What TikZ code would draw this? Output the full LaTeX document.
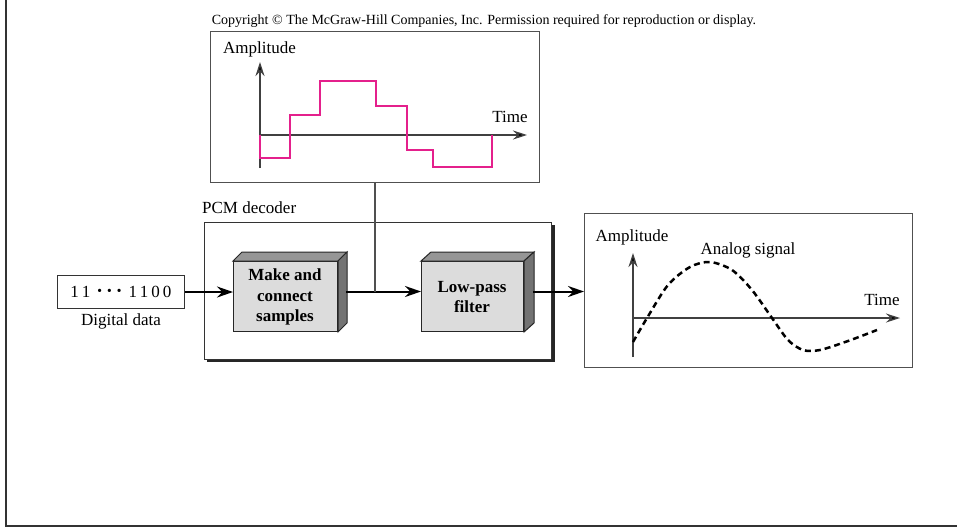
\documentclass[tikz,border=0pt]{standalone}
\usepackage{fontspec}
\setmainfont{Liberation Serif}
\usetikzlibrary{arrows.meta}
\definecolor{pinkline}{RGB}{228,32,140}
\definecolor{framegray}{RGB}{80,80,80}
\definecolor{frontgray}{RGB}{220,220,220}
\definecolor{topgray}{RGB}{150,150,150}
\definecolor{sidegray}{RGB}{115,115,115}
\tikzset{
  lbl/.style={inner sep=0pt, font=\fontsize{17}{20}\selectfont},
  panel/.style={draw=framegray, line width=1.3pt, fill=white, inner sep=0pt, anchor=north west},
  front/.style={draw=black!85, line width=1pt, fill=frontgray, inner sep=0pt, anchor=north west},
  axis/.style={draw=black!75, line width=1.3pt, -{Stealth[length=14pt,width=9pt,fill=black]}},
  flow/.style={draw=black, line width=2pt, -{Stealth[length=16pt,width=11pt]}},
  btxt/.style={align=center, inner sep=0pt, font=\bfseries\fontsize{17}{20.5}\selectfont}
}
\newcommand{\dotsep}{{\bfseries\fontsize{20}{20}\selectfont ·}}
\begin{document}
\begin{tikzpicture}[x=1pt,y=-1pt]
\useasboundingbox (0,0) rectangle (957,528);
% outer frame
\draw[line width=2pt, black!80] (6,0) -- (6,526) -- (957,526);
% copyright
\node[inner sep=0pt, font=\fontsize{14}{16}\selectfont] (copy) at (484,21) {Copyright \textcopyright{} The McGraw-Hill Companies, Inc. Permission required for reproduction or display.};
% top panel
\node[panel, minimum width=329pt, minimum height=151pt] (top) at (210,31) {};
\node[lbl] (amp1) at (259.5,49) {Amplitude};
\node[lbl] (time1) at (510,117) {Time};
\coordinate (o1) at (260,135);
\coordinate (o1b) at (260,168);
\coordinate (o1t) at (260,62);
\coordinate (o1r) at (527,135);
\draw[axis] (o1b) -- (o1t);
\draw[axis] (o1) -- (o1r);
\draw[pinkline, line width=2.5pt, line join=miter] (260,135) -- (260,158) -- (290,158) -- (290,115) -- (320,115) -- (320,81) -- (376,81) -- (376,106) -- (407,106) -- (407,150) -- (433,150) -- (433,167) -- (492,167) -- (492,135);
% PCM decoder
\node[lbl, anchor=west] (pcm) at (202,208) {PCM decoder};
\fill[black!85] (207,225) rectangle (555,362);
\node[panel, draw=black!80, minimum width=347pt, minimum height=137pt] (dec) at (204,222) {};
% digital data
\node[panel, draw=black!80, line width=1pt, minimum width=127pt, minimum height=33pt] (dig) at (57,275) {};
\node[lbl] (bits) at (dig.center) {1\hspace{3pt}1\hspace{6pt}\dotsep\hspace{3pt}\dotsep\hspace{3pt}\dotsep\hspace{6pt}1\hspace{3pt}1\hspace{3pt}0\hspace{3pt}0};
\node[lbl] (dd) at (121,321) {Digital data};
% block 1
\node[front, minimum width=104pt, minimum height=70pt] (b1) at (233,261) {};
\filldraw[draw=black!85, line width=1pt, fill=topgray] (b1.north west) -- ++(9,-9) -- ([shift={(9,-9)}]b1.north east) -- (b1.north east) -- cycle;
\filldraw[draw=black!85, line width=1pt, fill=sidegray] (b1.north east) -- ++(9,-9) -- ([shift={(9,-9)}]b1.south east) -- (b1.south east) -- cycle;
\node[btxt] (t1) at (285,297) {Make and\\connect\\samples};
% block 2
\node[front, minimum width=102pt, minimum height=70pt] (b2) at (421,261) {};
\filldraw[draw=black!85, line width=1pt, fill=topgray] (b2.north west) -- ++(10,-9) -- ([shift={(10,-9)}]b2.north east) -- (b2.north east) -- cycle;
\filldraw[draw=black!85, line width=1pt, fill=sidegray] (b2.north east) -- ++(10,-9) -- ([shift={(10,-9)}]b2.south east) -- (b2.south east) -- cycle;
\node[btxt] (t2) at (472,297) {Low-pass\\filter};
% analog panel
\node[panel, minimum width=328pt, minimum height=154pt] (ana) at (584,213) {};
\node[lbl] (amp2) at (632,237) {Amplitude};
\node[lbl] (asig) at (748,250) {Analog signal};
\node[lbl] (time2) at (882,300) {Time};
\coordinate (o2) at (633,318);
\coordinate (o2b) at (633,357);
\coordinate (o2t) at (633,253);
\coordinate (o2r) at (900,318);
\draw[axis] (o2b) -- (o2t);
\draw[axis] (o2) -- (o2r);
\draw[black, line width=2.5pt, dash pattern=on 6pt off 4pt] plot[smooth, tension=0.5] coordinates {(633,342) (647,318) (668,285) (690,267) (710,262) (732,270) (752,290) (772,318) (788,340) (803,350) (820,350) (848,341) (877,330)};
% connectors
\coordinate (b1r) at (346,291.5);
\coordinate (b2r) at (533,291.5);
\draw[flow] (dig.east) -- (dig.east -| b1.west);
\draw[flow] (b1r) -- (b1r -| b2.west);
\draw[flow] (b2r) -- (b2r -| ana.west);
\coordinate (tap) at (375,291.5);
\draw[framegray, line width=1.2pt] (top.south -| tap) -- (tap);
\end{tikzpicture}
\end{document}
